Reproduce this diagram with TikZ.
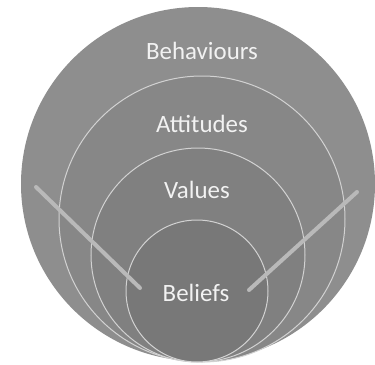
\documentclass[tikz,border=0pt]{standalone}
\usepackage{fontspec}
\setmainfont{Carlito}
\definecolor{ringA}{HTML}{8E8E8E}
\definecolor{ringB}{HTML}{878787}
\definecolor{ringC}{HTML}{808080}
\definecolor{ringD}{HTML}{787878}
\definecolor{ringline}{HTML}{D2D2D2}
\definecolor{armcol}{HTML}{B9B9B9}
\definecolor{txt}{HTML}{F2F2F2}
\begin{document}
\begin{tikzpicture}[x=1bp,y=-1bp,
  ring/.style={draw=ringline,line width=1bp},
  lbl/.style={text=txt,font=\fontsize{25}{29}\selectfont,inner sep=0pt},
  arm/.style={draw=armcol,line width=4bp,line cap=round}]
\useasboundingbox (0,0) rectangle (375,365);
\fill[ringA] (198,184) circle[radius=177];
\filldraw[ring,fill=ringB] (202,219) circle[radius=143];
\filldraw[ring,fill=ringC] (198,255) circle[radius=107];
\filldraw[ring,fill=ringD] (197,291) circle[radius=71];
\node[lbl] (beh) at (202,51) {Behaviours};
\node[lbl] (att) at (202,124) {Attitudes};
\node[lbl] (val) at (197,190) {Values};
\node[lbl] (bel) at (196,293) {Beliefs};
\coordinate (l1) at (36,187);
\coordinate (l2) at (140,288);
\coordinate (r1) at (249,290);
\coordinate (r2) at (357,192);
\draw[arm] (l1) -- (l2);
\draw[arm] (r1) -- (r2);
\end{tikzpicture}
\end{document}
